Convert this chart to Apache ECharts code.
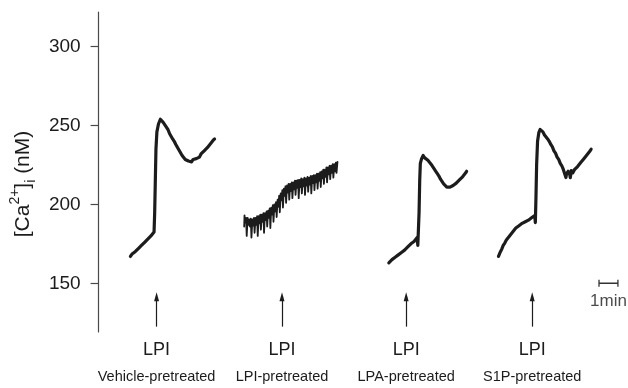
<!DOCTYPE html>
<html>
<head>
<meta charset="utf-8">
<script src="https://cdn.jsdelivr.net/npm/echarts@6/dist/echarts.min.js"></script>
<style>
  html, body { margin: 0; padding: 0; background: #fff; }
  #chart { width: 628px; height: 388px; }
</style>
</head>
<body>
<div id="chart"></div>
<script>
// time in seconds (x), [Ca2+]i in nM (y)
const LPI_TIMES = [184, 582, 976, 1376]
const PRETREATMENTS = ['Vehicle-pretreated', 'LPI-pretreated', 'LPA-pretreated', 'S1P-pretreated']
const Y_TICKS = [150, 200, 250, 300]
const ARROW_RANGE = [122.5, 141.5]
const SCALE_BAR = [1588, 1648]
const SCALE_BAR_Y = 150

const vehicle = [
  [101, 167], [106, 168.5], [111, 168], [116, 170], [121, 170.5], [126, 172], [131, 172], [136, 174],
  [141, 174.5], [146, 176], [151, 176], [156, 178], [161, 178.5], [166, 180], [171, 180.5], [176, 182.5],
  [178, 195], [180, 215], [182, 235], [185, 246], [190, 251], [196, 254], [200, 254.5],
  [205, 252], [210, 251.5], [215, 249], [220, 247.5], [225, 245], [230, 244], [235, 241.5], [240, 240],
  [245, 238], [250, 237], [255, 234.5], [260, 233.5], [265, 231], [270, 230], [275, 228.5],
  [280, 228], [285, 227.5], [290, 228], [295, 227], [300, 228.5], [305, 227.5], [310, 229],
  [315, 230], [320, 230], [325, 232], [330, 232.5], [335, 234], [340, 234.5], [345, 236], [350, 237],
  [355, 238.5], [360, 239.5], [365, 241], [368, 241.5]
]

const lpiPre = [
  [462, 186], [463, 193], [465, 188.5], [468, 191.5], [470, 180], [473, 191.5], [475, 187], [478, 190.5],
  [480, 186], [483, 191], [485, 179], [488, 190.5], [490, 186.5], [493, 191.5], [495, 182], [498, 191.5],
  [500, 187], [503, 192.5], [505, 180], [508, 192.5], [510, 188], [513, 193.5], [515, 184], [518, 193.5],
  [520, 189], [523, 194.5], [525, 182], [528, 194.5], [530, 190], [533, 195.5], [535, 186], [538, 196],
  [540, 191.5], [543, 197.5], [545, 185], [548, 198], [550, 193.5], [553, 199.5], [555, 189], [558, 200],
  [560, 195.5], [563, 201.5], [565, 192], [568, 203], [570, 198.5], [573, 205.5], [575, 195], [578, 207],
  [580, 202.5], [583, 209], [585, 198], [588, 210], [590, 205.5], [593, 211.5], [595, 201], [598, 212],
  [600, 207.5], [603, 213], [605, 203], [608, 213], [610, 208.5], [613, 214], [615, 204], [618, 214],
  [620, 209.5], [623, 215], [625, 206], [628, 215], [630, 210.5], [633, 215.5], [635, 204], [638, 215.5],
  [640, 211], [643, 216.5], [645, 207], [648, 216], [650, 211.5], [653, 217], [655, 206], [658, 216.5],
  [660, 212], [663, 217.5], [665, 208], [668, 217], [670, 212.5], [673, 218], [675, 207], [678, 218],
  [680, 213.5], [683, 218.5], [685, 209], [688, 218.5], [690, 214], [693, 219.5], [695, 210], [698, 219.5],
  [700, 215], [703, 220.5], [705, 211], [708, 221], [710, 216.5], [713, 222], [715, 213], [718, 222],
  [720, 217.5], [723, 223.5], [725, 214], [728, 223.5], [730, 219], [733, 224.5], [735, 216], [738, 224.5],
  [740, 220], [743, 225.5], [745, 217], [748, 225.5], [750, 221], [753, 226.5], [755, 220], [758, 227]
]

const lpaPre = [
  [921, 163], [926, 164], [931, 165], [936, 165.5], [941, 166.5], [946, 167], [951, 168], [956, 168.5],
  [961, 169.5], [966, 170.5], [971, 171], [976, 172], [981, 173], [986, 174], [991, 175], [996, 175.5],
  [1001, 176.5], [1006, 177.5], [1011, 179], [1013, 174], [1015, 173.5],
  [1017, 195], [1019, 215], [1021, 226], [1025, 229], [1030, 231],
  [1035, 229.5], [1040, 230], [1045, 228], [1050, 227.5], [1055, 225.5], [1060, 224.5], [1065, 222.5],
  [1070, 221], [1075, 219.5], [1080, 218], [1085, 216], [1090, 215], [1095, 213], [1100, 212.5],
  [1105, 211], [1110, 210.5], [1115, 211], [1120, 210.5], [1125, 212], [1130, 212], [1135, 213.5],
  [1140, 214], [1145, 215.5], [1150, 216], [1155, 217.5], [1160, 218.5], [1165, 220], [1168, 221]
]

const s1pPre = [
  [1269, 167], [1274, 169.5], [1279, 171.5], [1284, 174], [1289, 175.5], [1294, 177.5], [1299, 178.5],
  [1304, 180], [1309, 181], [1314, 182.5], [1319, 183.5], [1324, 185], [1329, 185.5], [1334, 186.5],
  [1339, 187], [1344, 188], [1349, 188], [1354, 189], [1359, 189.5], [1364, 190], [1369, 190.5],
  [1374, 191.5], [1379, 191.5], [1384, 193], [1386, 188.5],
  [1388, 205], [1390, 225], [1393, 240], [1397, 245.5], [1401, 247.5], [1405, 246.5],
  [1410, 246], [1415, 244], [1420, 243.5], [1425, 241.5], [1430, 240], [1435, 238], [1440, 236.5],
  [1445, 234], [1450, 232.5], [1455, 230], [1460, 228.5], [1465, 226], [1470, 224.5], [1475, 222],
  [1480, 221.5], [1483, 217], [1485, 219.5], [1490, 221], [1495, 219], [1497, 217], [1500, 221.5],
  [1505, 220], [1510, 222], [1515, 222.5], [1520, 224], [1525, 224.5], [1530, 226.5], [1535, 227],
  [1540, 229], [1545, 229.5], [1550, 231.5], [1555, 232], [1560, 234], [1563, 235]
]

const FONT = 'Liberation Sans, Arial, Helvetica, sans-serif'
const INK = '#1c1c1c'

function trace(name, data, width) {
  return {
    name,
    type: 'line',
    data,
    showSymbol: false,
    smooth: false,
    lineStyle: { color: INK, width: width ?? 3.2, join: 'round', cap: 'round' },
    silent: true,
  }
}

const chart = echarts.init(document.getElementById('chart'))
chart.setOption({
  animation: false,
  grid: { left: 95, right: 0, top: 12, bottom: 56 },
  xAxis: {
    type: 'value',
    min: 0,
    max: 1680,
    axisLine: { show: false },
    axisTick: { show: false },
    splitLine: { show: false },
    axisLabel: {
      customValues: LPI_TIMES,
      margin: 8,
      fontFamily: FONT,
      color: INK,
      formatter: (value) => {
        const i = LPI_TIMES.indexOf(value)
        return `{a|LPI}\n{b|${PRETREATMENTS[i] ?? ''}}`
      },
      rich: {
        a: { fontSize: 18, lineHeight: 20, fontFamily: FONT, color: INK },
        b: { fontSize: 14.5, lineHeight: 33, fontFamily: FONT, color: INK },
      },
    },
  },
  yAxis: {
    type: 'value',
    min: 119.1,
    max: 322,
    name: '{b|[Ca}{sup|2+}{b|]}{sub|i}{b| (nM)}',
    nameLocation: 'middle',
    nameRotate: 90,
    nameGap: 60,
    nameTextStyle: {
      padding: [0, 24, 0, 0],
      rich: {
        b: { fontSize: 21, lineHeight: 30, fontFamily: FONT, color: INK },
        sup: { fontSize: 14, lineHeight: 13, verticalAlign: 'top', fontFamily: FONT, color: INK },
        sub: { fontSize: 14, lineHeight: 13, verticalAlign: 'bottom', fontFamily: FONT, color: INK },
      },
    },
    axisLine: { show: true, lineStyle: { color: '#4a4a4a', width: 1.2 } },
    axisTick: { show: true, length: 8, customValues: Y_TICKS, lineStyle: { color: '#4a4a4a', width: 1.2 } },
    splitLine: { show: false },
    axisLabel: {
      customValues: Y_TICKS,
      margin: 18,
      fontSize: 19,
      fontFamily: FONT,
      color: INK,
    },
  },
  series: [
    trace('Vehicle-pretreated', vehicle),
    trace('LPI-pretreated', lpiPre, 1.8),
    trace('LPA-pretreated', lpaPre),
    trace('S1P-pretreated', s1pPre),
    {
      name: 'scale',
      type: 'line',
      data: SCALE_BAR.map((t) => [t, SCALE_BAR_Y]),
      symbol: 'rect',
      symbolSize: [1.3, 7],
      showSymbol: true,
      itemStyle: { color: '#333' },
      lineStyle: { color: '#333', width: 1.3 },
      silent: true,
      markLine: {
        silent: true,
        symbol: ['none', 'triangle'],
        symbolSize: [5, 9],
        label: { show: false },
        lineStyle: { color: INK, width: 1.2, type: 'solid' },
        data: LPI_TIMES.map((t) => [
          { coord: [t, ARROW_RANGE[0]] },
          { coord: [t, ARROW_RANGE[1]] },
        ]),
      },
    },
    {
      name: 'scale label',
      type: 'scatter',
      data: [[(SCALE_BAR[0] + SCALE_BAR[1]) / 2, 138.3]],
      symbolSize: 0,
      silent: true,
      label: {
        show: true,
        position: 'inside',
        formatter: '1min',
        fontSize: 17,
        fontFamily: FONT,
        color: INK,
      },
    },
  ],
})
</script>
</body>
</html>
